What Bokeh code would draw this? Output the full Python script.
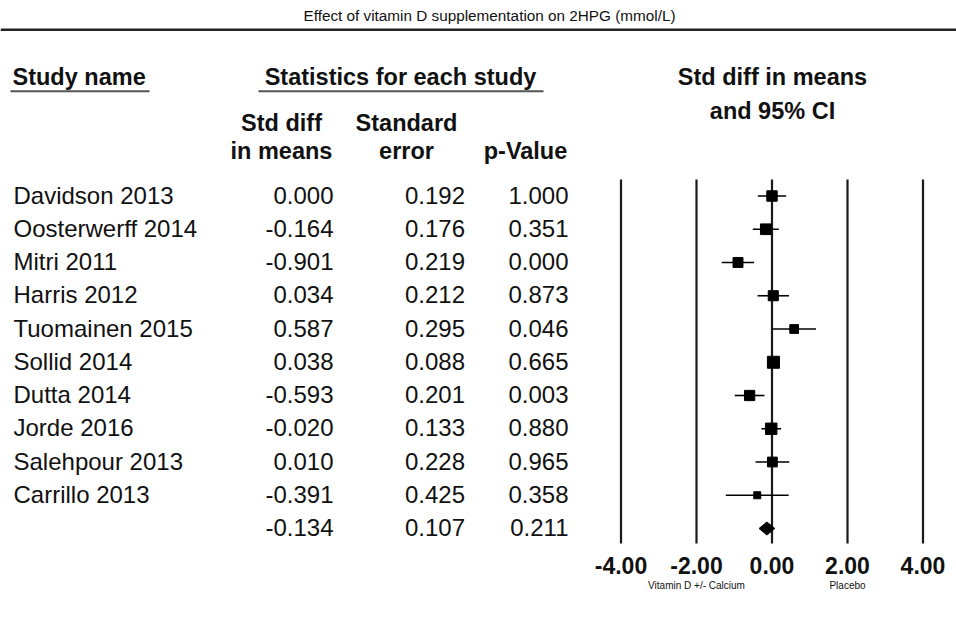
from bokeh.plotting import figure
from bokeh.models import Range1d, LinearAxis, FixedTicker, NumeralTickFormatter, ColumnDataSource
from bokeh.core.properties import value
from bokeh.embed import file_html
from bokeh.resources import INLINE

# ---------------- data ----------------
title_text = "Effect of vitamin D supplementation on 2HPG (mmol/L)"
studies = ["Davidson 2013", "Oosterwerff 2014", "Mitri 2011", "Harris 2012",
           "Tuomainen 2015", "Sollid 2014", "Dutta 2014", "Jorde 2016",
           "Salehpour 2013", "Carrillo 2013"]
std_diff = [0.000, -0.164, -0.901, 0.034, 0.587, 0.038, -0.593, -0.020, 0.010, -0.391]
std_err = [0.192, 0.176, 0.219, 0.212, 0.295, 0.088, 0.201, 0.133, 0.228, 0.425]
p_value = [1.000, 0.351, 0.000, 0.873, 0.046, 0.665, 0.003, 0.880, 0.965, 0.358]
summary_diff = -0.134
summary_se = 0.107
summary_p = 0.211
axis_ticks = [-4, -2, 0, 2, 4]
side_ticks = [-2, 2]
side_labels = ["Vitamin D +/- Calcium", "Placebo"]

# ---------------- layout constants ----------------
W, H = 956, 619
FRAME_H = 548
PX_PER_UNIT = 37.75
ZERO_PX = 771.5
ROW0 = 195.5
ROW_STEP = 33.25
FONT = "Liberation Sans"
INK = "#111111"
BASE_SHIFT = 0.4  # svg text baseline correction (in em)


def bl(y, fs):
    return y - BASE_SHIFT * fs


n = len(studies)
row_y = [ROW0 + ROW_STEP * i for i in range(n)]
sum_y = ROW0 + ROW_STEP * n

# 95% CI from estimate and standard error
lower = [d - 1.96 * s for d, s in zip(std_diff, std_err)]
upper = [d + 1.96 * s for d, s in zip(std_diff, std_err)]
sum_lo = summary_diff - 1.96 * summary_se
sum_hi = summary_diff + 1.96 * summary_se
# square size follows study weight (random-effects style)
ref = (min(std_err) ** 2 + 0.0815) ** 0.5
sizes = [12 * ref / (s ** 2 + 0.0815) ** 0.5 for s in std_err]

p = figure(width=W, height=H, x_range=Range1d(0, W), y_range=Range1d(FRAME_H, 0),
           output_backend="svg", toolbar_location=None,
           x_axis_type=None, y_axis_type=None,
           min_border_left=0, min_border_right=0, min_border_top=0,
           min_border_bottom=H - FRAME_H, outline_line_color=None,
           background_fill_color="white", border_fill_color="white")
p.extra_x_ranges = {"es": Range1d(-ZERO_PX / PX_PER_UNIT, (W - ZERO_PX) / PX_PER_UNIT)}

# axes (effect size)
ax = LinearAxis(x_range_name="es", ticker=FixedTicker(ticks=axis_ticks),
                formatter=NumeralTickFormatter(format="0.00"))
ax.axis_line_color = None
ax.major_tick_line_color = None
ax.minor_tick_line_color = None
ax.major_tick_in = 0
ax.major_tick_out = 0
ax.major_label_standoff = 8
ax.major_label_text_font = FONT
ax.major_label_text_font_style = "bold"
ax.major_label_text_font_size = "23px"
ax.major_label_text_color = INK
p.add_layout(ax, "below")

ax2 = LinearAxis(x_range_name="es", ticker=FixedTicker(ticks=side_ticks),
                 major_label_overrides={t: lab for t, lab in zip(side_ticks, side_labels)})
ax2.axis_line_color = None
ax2.major_tick_line_color = None
ax2.minor_tick_line_color = None
ax2.major_tick_in = 0
ax2.major_tick_out = 0
ax2.major_label_standoff = 3
ax2.major_label_text_font = FONT
ax2.major_label_text_font_size = "10px"
ax2.major_label_text_color = INK
p.add_layout(ax2, "below")

# title and rule
p.text(x=[489], y=[bl(20.7, 15.3)], text=[title_text], text_font=value(FONT),
       text_font_size="15.3px", text_align="center", text_baseline="alphabetic",
       text_color=INK)
p.segment(x0=[0], x1=[W], y0=[29.3], y1=[29.3], line_width=2.5, line_color="#222222")

# headers
HF = 23.5
hdr = ColumnDataSource(dict(
    x=[12, 400, 772, 772, 281, 281, 406, 406, 525],
    y=[bl(v, HF) for v in [85.5, 85.5, 85.7, 120, 131.7, 160, 131.7, 160, 160]],
    t=["Study name", "Statistics for each study", "Std diff in means", "and 95% CI",
       "Std diff", "in means", "Standard", "error", "p-Value"],
    a=["left", "center", "center", "center", "center", "center", "center", "center", "center"],
))
p.text(x="x", y="y", text="t", text_align="a", source=hdr, text_font=value(FONT),
       text_font_style="bold", text_font_size=f"{HF}px", text_baseline="alphabetic",
       text_color=INK)
p.segment(x0=[10, 258], x1=[149, 543], y0=[90.7, 90.7], y1=[90.7, 90.7],
          line_width=2, line_color="#555555")

# table rows
RF = 24
txt_y = [bl(y + 8.8, RF) for y in row_y]
p.text(x=[13] * n, y=txt_y, text=studies, text_font=value(FONT), text_font_size=f"{RF}px",
       text_align="left", text_baseline="alphabetic", text_color=INK)
all_y = txt_y + [bl(sum_y + 8.8, RF)]
cols = [
    (333, [f"{v:.3f}" for v in std_diff + [summary_diff]]),
    (464.5, [f"{v:.3f}" for v in std_err + [summary_se]]),
    (568, [f"{v:.3f}" for v in p_value + [summary_p]]),
]
for cx, vals in cols:
    p.text(x=[cx] * len(vals), y=all_y, text=vals, text_font=value(FONT),
           text_font_size=f"{RF}px", text_align="right", text_baseline="alphabetic",
           text_color=INK)

# forest plot
p.segment(x0=axis_ticks, x1=axis_ticks, y0=179, y1=543, x_range_name="es",
          line_width=2.2, line_color="#1a1a1a")
p.segment(x0=lower, x1=upper, y0=row_y, y1=row_y, x_range_name="es",
          line_width=1.6, line_color="black")
p.scatter(x=std_diff, y=row_y, size=sizes, marker="square", x_range_name="es",
          fill_color="black", line_color="black")
p.patch(x=[sum_lo, summary_diff, sum_hi, summary_diff],
        y=[sum_y, sum_y - 6.5, sum_y, sum_y + 6.5], x_range_name="es",
        fill_color="black", line_color="black")

open("out.html", "w").write(file_html(p, INLINE))
